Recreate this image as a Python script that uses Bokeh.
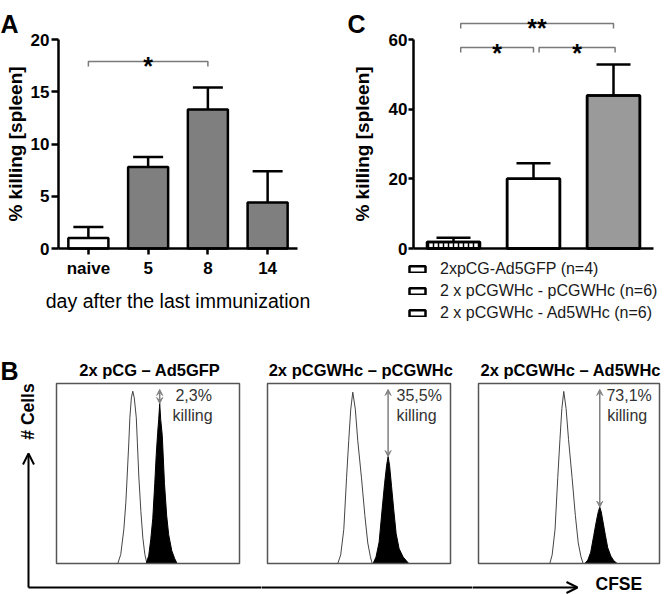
import math
from bokeh.plotting import figure
from bokeh.models import (Range1d, Label, Legend, LegendItem, Whisker, LinearAxis, BoxAnnotation,
                          TeeHead, Arrow, OpenHead, VeeHead, ColumnDataSource)
from bokeh.layouts import row, column
from bokeh.embed import file_html
from bokeh.resources import INLINE
from bokeh.core.properties import value

FONT = "Liberation Sans"

# ---------------- data ----------------
# Panel A
days = ["naive", "5", "8", "14"]
kill_A = [1.0, 7.8, 13.3, 4.4]
sem_A = [1.05, 0.95, 2.1, 3.0]
yticks_A = [0, 5, 10, 15, 20]
sigA_from = ["naive"]
sigA_to = ["8"]
sigA_level = [17.9]
sigA_text = ["*"]

# Panel C
groups_C = ["2xpCG-Ad5GFP (n=4)", "2 x pCGWHc - pCGWHc (n=6)", "2 x pCGWHc - Ad5WHc (n=6)"]
kill_C = [1.9, 20.0, 43.9]
sem_C = [1.2, 4.5, 8.9]
yticks_C = [0, 20, 40, 60]
sigC_from = [groups_C[0], groups_C[0], groups_C[1]]
sigC_to = [groups_C[2], groups_C[1], groups_C[2]]
sigC_level = [64.6, 57.7, 57.7]
sigC_text = ["**", "*", "*"]

# Panel B (CFSE histograms, x: CFSE channel 0-100, y: cell count 0-100)
titles_B = ["2x pCG \u2013 Ad5GFP", "2x pCGWHc \u2013 pCGWHc", "2x pCGWHc \u2013 Ad5WHc"]
killing_B = ["2,3%", "35,5%", "73,1%"]
ref1_x = [33.5, 35.1, 36.8, 37.9, 38.6, 39.5, 40.1, 40.9, 41.7, 42.5, 43.6, 44.2, 45.0, 46.1, 47.2, 48.3, 49.4]
ref1_y = [0, 5, 19, 34, 48, 67, 81, 92, 95.7, 92, 81, 67, 48, 29, 14, 5, 0]
tgt1_x = [49.0, 50.4, 51.5, 52.6, 53.7, 54.5, 55.3, 55.85, 56.4, 56.95, 57.8, 59.0, 60.2, 61.3, 63.0, 64.6, 65.9]
tgt1_y = [0, 4.4, 13.3, 24.9, 44.5, 60.5, 72.9, 80, 88.9, 80, 71.1, 44.5, 26.7, 16, 7.1, 2.7, 0]
ref2_x = [38.4, 40.0, 41.7, 43.2, 44.4, 45.5, 46.6, 48.0, 49.3, 51.35, 53.2, 54.8, 56.2, 57.2]
ref2_y = [0, 4.8, 19, 47.6, 68.5, 85.7, 95.2, 85.7, 68.5, 47.6, 26.7, 11.4, 3.8, 0]
tgt2_x = [57.7, 59.3, 61.0, 62.6, 64.0, 65.1, 65.9, 66.7, 67.8, 69.0, 70.3, 71.9, 74.1, 77.2]
tgt2_y = [0, 3.6, 11.9, 29.7, 44.6, 54.6, 59.4, 54.6, 42.8, 29.7, 16.6, 8.3, 3.6, 0]
ref3_x = [39.4, 40.7, 42.3, 43.8, 45.0, 46.05, 47.1, 48.4, 49.75, 51.7, 53.5, 55.1, 56.6, 57.8]
ref3_y = [0, 4.8, 19.1, 47.8, 68.8, 86, 95.6, 86, 68.8, 47.8, 26.8, 11.5, 3.8, 0]
tgt3_x = [58.7, 60.4, 62.0, 63.7, 65.1, 66.2, 67.0, 67.8, 68.9, 70.1, 71.4, 73.1, 74.7, 76.6]
tgt3_y = [0, 1.9, 6.3, 15.7, 23.5, 28.8, 31.3, 28.8, 22.5, 15.7, 8.8, 4.1, 1.6, 0]
gate_top = 96.7   # count level where the killing arrow starts


# ---------------- helpers ----------------
def make_fig(w, h, cx, cy, fx, fy):
    """Figure whose frame fills the whole canvas; ranges chosen so that the
    layout (in page px) maps onto the canvas."""
    p = figure(width=w, height=h,
               x_range=Range1d(fx(cx), fx(cx + w)), y_range=Range1d(fy(cy + h), fy(cy)),
               x_axis_location=None, y_axis_location=None,
               toolbar_location=None, output_backend="svg", min_border=0)
    p.xgrid.visible = False
    p.ygrid.visible = False
    p.outline_line_color = None
    return p


def style_axis(ax, tick_out, standoff):
    ax.axis_line_width = 2.5
    ax.axis_line_color = "black"
    ax.major_tick_line_width = 2.5
    ax.major_tick_line_color = "black"
    ax.major_tick_in = 0
    ax.major_tick_out = tick_out
    ax.minor_tick_line_color = None
    ax.major_label_standoff = standoff
    ax.major_label_text_font = FONT
    ax.major_label_text_font_style = "bold"
    ax.major_label_text_font_size = "17px"
    ax.major_label_text_color = "black"


def bracket(p, ia, oa, ib, ob, level, drop, label):
    xs = [ia + oa, ia + oa, ib + ob, ib + ob]
    ys = [level - drop, level, level, level - drop]
    p.line(x=xs, y=ys, line_color="#7a7a7a", line_width=1.5)
    p.text(x=[(ia + oa + ib + ob) / 2.0], y=[level], text=[label], text_font=value(FONT),
           text_font_style="bold", text_font_size="25px", text_align="center",
           text_baseline="alphabetic", y_offset=5, text_color="black")


def lab(p, x, y, t, size, bold=True, align="left", base="middle", angle=0.0, color="black"):
    p.add_layout(Label(x=x, y=y, text=t, text_font=FONT, text_font_style="bold" if bold else "normal",
                       text_font_size=size, text_align=align, text_baseline=base, angle=angle,
                       text_color=color))


H_TOP = 340
H_BOT = 254
W_A, W_C = 330, 336
W_B = [261, 211, 194]

# ---------------- Panel A ----------------
fxA = lambda xr: -0.5 + (xr - 58) / 59.75
fyA = lambda yr: (248 - yr) / 10.45
pA = make_fig(W_A, H_TOP, 0, 0, fxA, fyA)
xA = list(range(len(days)))
srcA = ColumnDataSource(dict(x=xA, top=kill_A, upper=[k + e for k, e in zip(kill_A, sem_A)],
                             fill=["white", "#7f7f7f", "#7f7f7f", "#7f7f7f"]))
pA.vbar(x="x", top="top", width=0.67, source=srcA, fill_color="fill", line_color="black", line_width=2.5)
pA.add_layout(Whisker(base="x", lower="top", upper="upper", source=srcA, line_width=2.5, line_color="black",
                      lower_head=None, upper_head=TeeHead(size=30, line_width=2.5, line_color="black")))
axAx = LinearAxis(fixed_location=0, ticker=xA, bounds=(-0.5, len(days) - 0.5),
                  major_label_overrides={i: d for i, d in zip(xA, days)})
style_axis(axAx, 6, 4)
pA.add_layout(axAx, "below")
axAy = LinearAxis(fixed_location=-0.5, ticker=yticks_A, bounds=(0, 20))
style_axis(axAy, 7, 2)
pA.add_layout(axAy, "left")
for a, b, lv, t in zip(sigA_from, sigA_to, sigA_level, sigA_text):
    bracket(pA, days.index(a), 0.0, days.index(b), 0.0, lv, 0.48, t)
lab(pA, fxA(15), 10, "% killing [spleen]", "19px", align="center", angle=math.pi / 2)
lab(pA, fxA(177.5), fyA(300), "day after the last immunization", "19.5px", bold=False, align="center")
lab(pA, fxA(0), fyA(23), "A", "25px", base="alphabetic")

# ---------------- Panel C ----------------
fxC = lambda xr: -0.5 + (xr - 413) / 80.0
fyC = lambda yr: (248 - yr) / 3.483
pC = make_fig(W_C, H_TOP, W_A, 0, fxC, fyC)
xC = list(range(len(groups_C)))
srcC = ColumnDataSource(dict(x=xC, top=kill_C, upper=[k + e for k, e in zip(kill_C, sem_C)],
                             fill=["white", "white", "#9a9a9a"], hatch=["|", " ", " "]))
pC.vbar(x="x", top="top", width=0.66, source=srcC, fill_color="fill", line_color="black", line_width=2.5,
        hatch_pattern="hatch", hatch_color="black", hatch_scale=5, hatch_weight=1.5)
outline_C = pC.vbar(x="x", top="top", width=0.66, source=srcC, fill_color=None, line_color="black",
                    line_width=2.5)
pC.add_layout(Whisker(base="x", lower="top", upper="upper", source=srcC, line_width=2.5, line_color="black",
                      lower_head=None, upper_head=TeeHead(size=34, line_width=2.5, line_color="black")))
axCx = LinearAxis(fixed_location=0, ticker=[], bounds=(-0.5, len(groups_C) - 0.5))
style_axis(axCx, 0, 0)
axCx.major_tick_line_color = None
pC.add_layout(axCx, "below")
axCy = LinearAxis(fixed_location=-0.5, ticker=yticks_C, bounds=(0, 60))
style_axis(axCy, 5, 1)
pC.add_layout(axCy, "left")
offs = [(0.09, 0.0), (0.09, 0.0), (0.07, 0.02)]
for (a, b, lv, t), (oa, ob) in zip(zip(sigC_from, sigC_to, sigC_level, sigC_text), offs):
    bracket(pC, groups_C.index(a), oa, groups_C.index(b), ob, lv, 1.44, t)
legC = Legend(items=[LegendItem(label=value(g), renderers=[outline_C], index=i)
                     for i, g in enumerate(groups_C)],
              location=(407 - W_A, 17), orientation="vertical",
              glyph_width=20, glyph_height=8,
              label_standoff=13, label_height=20, spacing=2, padding=0, margin=0,
              border_line_color=None, background_fill_alpha=0, label_text_font=FONT,
              label_text_font_size="16px", label_text_color="#1a1a1a")
pC.add_layout(legC)
lab(pC, fxC(361.7), 30, "% killing [spleen]", "19px", align="center", angle=math.pi / 2)
lab(pC, fxC(347), fyC(23), "C", "25px", base="alphabetic")

# ---------------- Panel B ----------------
hists = [(ref1_x, ref1_y, tgt1_x, tgt1_y), (ref2_x, ref2_y, tgt2_x, tgt2_y), (ref3_x, ref3_y, tgt3_x, tgt3_y)]
box_left = [56, 267, 478]
box_unit = [1.83, 1.83, 1.81]
txt_x = [(65.0, 63.4), (70.5, 70.5), (70.7, 71.1)]
canvas_left = [0, W_B[0], W_B[0] + W_B[1]]
fyB = lambda yr: (563 - yr) / 1.8
pBs, fxs = [], []
for i, (rx, ry, tx, ty) in enumerate(hists):
    fx = (lambda bl, u: (lambda xr: (xr - bl) / u))(box_left[i], box_unit[i])
    p = make_fig(W_B[i], H_BOT, canvas_left[i], H_TOP, fx, fyB)
    p.add_layout(BoxAnnotation(left=0, right=100, bottom=0, top=100, fill_color=None, fill_alpha=0,
                               line_color="#555555", line_width=1.5, line_alpha=1))
    p.patch(rx, ry, fill_color="white", line_color="#444444", line_width=1)
    p.patch(tx, ty, fill_color="black", line_color="black", line_width=1)
    k = ty.index(max(ty))
    p.add_layout(Arrow(x_start=tx[k], y_start=gate_top, x_end=tx[k], y_end=ty[k],
                       start=VeeHead(size=6, fill_color="#808080", line_color="#808080"),
                       end=VeeHead(size=6, fill_color="#808080", line_color="#808080"),
                       line_color="#808080", line_width=1.5))
    p.text(x=[txt_x[i][0], txt_x[i][1]], y=[93.3, 82.2], text=[killing_B[i], "killing"],
           text_font=value(FONT), text_font_size="16px", text_color="#333333",
           text_baseline="middle", text_align="left")
    lab(p, 51, fyB(369), titles_B[i], "16.5px", align="center")
    pBs.append(p)
    fxs.append(fx)

pB1, pB2, pB3 = pBs
yax = fyB(587)
pB1.add_layout(Arrow(x_start=fxs[0](28), y_start=yax, x_end=fxs[0](28), y_end=fyB(453),
                     end=OpenHead(size=11, line_width=2, line_color="black"), line_width=2, line_color="black"))
pB1.add_layout(Arrow(x_start=fxs[0](28), y_start=yax, x_end=fxs[0](280), y_end=yax, end=None,
                     line_width=2, line_color="black"))
pB2.add_layout(Arrow(x_start=fxs[1](250), y_start=yax, x_end=fxs[1](490), y_end=yax, end=None,
                     line_width=2, line_color="black"))
pB3.add_layout(Arrow(x_start=fxs[2](460), y_start=yax, x_end=fxs[2](577), y_end=yax,
                     end=OpenHead(size=11, line_width=2, line_color="black"), line_width=2, line_color="black"))
lab(pB3, fxs[2](595), fyB(593.5), "CFSE", "17.5px", base="bottom")
lab(pB1, fxs[0](27), fyB(411), "# Cells", "17.5px", align="center", angle=math.pi / 2)
lab(pB1, fxs[0](0), fyB(370), "B", "25px", base="alphabetic")

layout = column(row(pA, pC), row(pB1, pB2, pB3))
open("out.html", "w").write(file_html(layout, INLINE))
